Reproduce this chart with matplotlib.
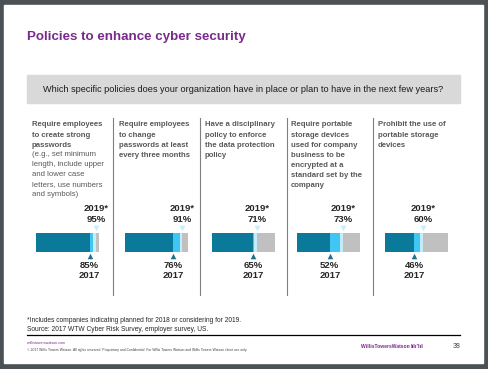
import matplotlib.pyplot as plt
from matplotlib.patches import Rectangle

plt.rcParams['font.family'] = ['Liberation Sans', 'DejaVu Sans']

# data
headers_bold = ['Require employees\nto create strong\npasswords',
                'Require employees\nto change\npasswords at least\nevery three months',
                'Have a disciplinary\npolicy to enforce\nthe data protection\npolicy',
                'Require portable\nstorage devices\nused for company\nbusiness to be\nencrypted at a\nstandard set by the\ncompany',
                'Prohibit the use of\nportable storage\ndevices']
headers_note = ['(e.g., set minimum\nlength, include upper\nand lower case\nletters, use numbers\nand symbols)', '', '', '', '']
pct_2017 = [85, 76, 65, 52, 46]
pct_2019 = [95, 91, 71, 73, 60]

title = 'Policies to enhance cyber security'
question = 'Which specific policies does your organization have in place or plan to have in the next few years?'
footnote = '*Includes companies indicating planned for 2018 or considering for 2019.\nSource: 2017 WTW Cyber Risk Survey, employer survey, US.'

# colours
purple = '#7a2a8c'
dark = '#0b7a9a'
light = '#3fc6f2'
pale = '#c4ecfa'
grey = '#c0c0c0'
txt = '#595959'

W, H = 489, 369
fig = plt.figure(figsize=(W / 100, H / 100), dpi=100, facecolor='#4b5155')

# page in pixel coordinates
bg = fig.add_axes([0, 0, 1, 1])
bg.set_xlim(0, W)
bg.set_ylim(H, 0)
bg.axis('off')
bg.add_patch(Rectangle((4, 5), 479, 358, color='white'))
bg.text(27, 37, title, color=purple, fontsize=9.6, fontweight='bold', va='center')
bg.add_patch(Rectangle((27, 75), 433, 28, color='#d9d9d9'))
bg.text(243, 89.5, question, fontsize=6.6, va='center', ha='center', color='#1a1a1a')

header_x = [32, 119, 205, 291, 378]
for x in [113, 200, 287, 373]:
    bg.plot([x, x], [118, 295], color='#7f7f7f', lw=0.8)
for i in range(5):
    bg.text(header_x[i], 121.5, headers_bold[i], fontsize=5.6, fontweight='bold',
            color=txt, va='top', linespacing=1.63)
    if headers_note[i]:
        n_lines = headers_bold[i].count('\n') + 1
        bg.text(header_x[i], 122.5 + n_lines * 9.4, headers_note[i], fontsize=5.6,
                color=txt, va='top', linespacing=1.63)

bg.text(27, 325, footnote, fontsize=4.8, color='#262626', va='center', linespacing=1.35)
bg.plot([27, 460], [335, 335], color='black', lw=0.9)
bg.text(27, 343, 'willistowerswatson.com', fontsize=2.6, color=purple, va='center')
bg.text(27, 350, '\u00a9 2017 Willis Towers Watson. All rights reserved. Proprietary and Confidential. '
        'For Willis Towers Watson and Willis Towers Watson client use only.',
        fontsize=2.4, color='#404040', va='center')
bg.text(361, 346, 'WillisTowersWatson', fontsize=3.6, color=purple, va='center', fontweight='bold')
bg.text(411, 346, 'l\u0131l\u0131\'l\u0131l', fontsize=4.2, color=purple, va='center', fontweight='bold')
bg.text(453, 346, '38', fontsize=5, color='#404040', va='center')

# bar panels
bar_left = [36, 125, 212, 297, 385]
bar_w = 63
top, bot = 200, 285
for i in range(5):
    ax = fig.add_axes([bar_left[i] / W, 1 - bot / H, bar_w / W, (bot - top) / H])
    ax.set_xlim(0, 100)
    ax.set_ylim(bot, top)
    ax.axis('off')
    v17, v19 = pct_2017[i], pct_2019[i]
    ax.barh(242.5, 100, height=19, color=grey)
    ax.barh(242.5, v19, height=19, color=pale)
    ax.barh(242.5, v19 - 4, height=19, color=light)
    ax.barh(242.5, v17, height=19, color=dark)
    ax.scatter([v17], [256.5], marker='^', s=16, color='#1d6f8a', clip_on=False, zorder=3, linewidths=0)
    ax.scatter([v19], [228.5], marker='v', s=16, color=pale, clip_on=False, zorder=3, linewidths=0)
    ax.text(v19, 209, '2019*', ha='center', va='center', fontsize=6.8, fontweight='bold', color='#262626')
    ax.text(v19, 220, f'{v19}%', ha='center', va='center', fontsize=6.8, fontweight='bold', color='#262626')
    ax.text(v17, 265.5, f'{v17}%', ha='center', va='center', fontsize=6.8, fontweight='bold', color='#262626')
    ax.text(v17, 275.5, '2017', ha='center', va='center', fontsize=6.8, fontweight='bold', color='#262626')

fig.savefig('out.png', dpi=100, facecolor=fig.get_facecolor())
